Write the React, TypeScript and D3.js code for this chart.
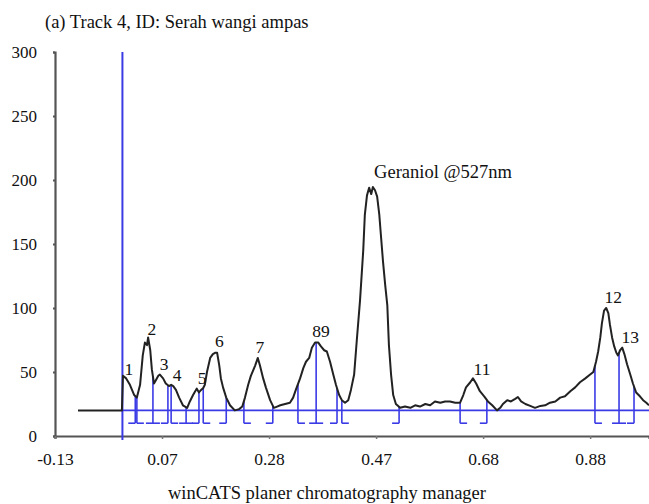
import React, { useEffect, useRef } from 'react';
import * as d3 from 'd3';

// densitogram trace (Rf vs intensity)
const rfValues = [
  -0.087, -0.005, -0.003, 0.003, 0.010, 0.018, 0.023, 0.029, 0.034, 0.038, 0.042, 0.044, 0.048,
  0.051, 0.055, 0.059, 0.063, 0.066, 0.072, 0.077, 0.083, 0.087, 0.091, 0.096, 0.102, 0.109,
  0.117, 0.122, 0.128, 0.132, 0.135, 0.139, 0.143, 0.147, 0.150, 0.154, 0.160, 0.165, 0.169,
  0.173, 0.177, 0.180, 0.184, 0.190, 0.197, 0.206, 0.214, 0.220, 0.225, 0.231, 0.236, 0.244,
  0.249, 0.253, 0.259, 0.264, 0.272, 0.279, 0.285, 0.291, 0.300, 0.309, 0.315, 0.320, 0.328,
  0.334, 0.339, 0.345, 0.350, 0.356, 0.362, 0.367, 0.373, 0.378, 0.384, 0.390, 0.395, 0.401,
  0.406, 0.412, 0.418, 0.423, 0.429, 0.434, 0.440, 0.446, 0.449, 0.453, 0.457, 0.461, 0.464,
  0.468, 0.472, 0.476, 0.479, 0.483, 0.487, 0.491, 0.494, 0.498, 0.502, 0.507, 0.515, 0.524,
  0.534, 0.543, 0.552, 0.562, 0.571, 0.580, 0.590, 0.599, 0.608, 0.618, 0.627, 0.633, 0.638,
  0.646, 0.651, 0.657, 0.664, 0.672, 0.679, 0.687, 0.696, 0.702, 0.707, 0.715, 0.722, 0.730,
  0.735, 0.741, 0.749, 0.758, 0.767, 0.777, 0.786, 0.795, 0.805, 0.814, 0.823, 0.833, 0.842,
  0.851, 0.861, 0.870, 0.876, 0.881, 0.885, 0.889, 0.892, 0.896, 0.900, 0.904, 0.907, 0.911,
  0.915, 0.919, 0.922, 0.926, 0.930, 0.934, 0.939, 0.945, 0.950, 0.956, 0.963, 0.969, 0.975, 0.980,
];
const intensity = [
  20, 20, 47, 45, 40, 32, 30, 40, 63, 73, 71, 77, 67,
  52, 41, 44, 47, 48, 45, 41, 39, 40, 39, 36, 30, 24,
  22, 27, 32, 35, 37, 34, 36, 37.5, 40, 50, 61, 64, 65,
  65, 55, 45, 38, 30, 24, 20, 21, 23, 30, 40, 47, 55,
  61, 55, 45, 38, 28, 22, 23, 24, 25, 26, 30, 36, 45,
  53, 58, 61, 69, 73, 73, 70, 67, 66, 58, 48, 40, 32,
  28, 26, 28, 36, 48, 75, 106, 145, 173, 188, 194, 189, 194.5,
  192, 187, 173, 157, 136, 118, 102, 71, 48, 32, 25, 22, 23,
  22, 24, 23, 25, 24, 27, 26, 27, 27, 26, 26, 32, 38,
  42, 45, 41, 35, 31, 27, 24, 20, 22, 25, 28, 27, 29,
  30.5, 27, 25, 23.5, 22, 23.5, 24, 26, 27, 30, 31, 35, 38,
  42, 45, 48, 50, 58, 66, 77, 88, 98, 100, 96, 87, 77,
  70, 65, 63, 67, 69, 64, 56, 48, 41, 34, 31, 28, 26, 24,
];

// integration marks: position and which side the foot points to
const markerRf = [0.020, 0.023, 0.053, 0.081, 0.087, 0.115, 0.139, 0.147, 0.190, 0.223, 0.277,
  0.324, 0.358, 0.397, 0.406, 0.513, 0.627, 0.677, 0.879, 0.924, 0.952];
const markerSide = ['L', 'R', 'B', 'L', 'R', 'B', 'L', 'R', 'L', 'R', 'L',
  'R', 'B', 'L', 'R', 'L', 'R', 'L', 'R', 'B', 'L'];

const peakNames = ['1', '2', '3', '4', '5', '6', '7', '89', 'Geraniol @527nm', '11', '12', '13'];
const peakLabelRf = [0.008, 0.051, 0.074, 0.098, 0.145, 0.177, 0.253, 0.367, 0.595, 0.668, 0.913, 0.945];
const peakLabelVal = [47.7, 78.9, 51.6, 43, 40.6, 69.5, 64.8, 77.3, 201.6, 47.7, 103.9, 72.7];

const xTickLabels = ['-0.13', '0.07', '0.28', '0.47', '0.68', '0.88'];
const yTickValues = [0, 50, 100, 150, 200, 250, 300];

const startRf = -0.004;
const baselineLevel = 20;
const footLevel = 10;

const App = () => {
  const ref = useRef<SVGSVGElement>(null);

  useEffect(() => {
    const width = 649;
    const height = 504;
    const font = "'Liberation Serif', 'Times New Roman', serif";
    const blue = '#3b3be6';

    const svg = d3.select(ref.current)
      .attr('width', width)
      .attr('height', height);
    svg.selectAll('*').remove();

    const x = d3.scaleLinear().domain([-0.13, 0.98]).range([55, 649]);
    const y = d3.scaleLinear().domain([0, 300]).range([436, 52]);

    const pts = rfValues.map((r, i) => [r, intensity[i]] as [number, number]);
    const bis = d3.bisector((d: [number, number]) => d[0]).left;
    const curveAt = (r: number) => {
      const i = Math.max(1, Math.min(pts.length - 1, bis(pts, r)));
      const a = pts[i - 1], b = pts[i];
      const t = (r - a[0]) / (b[0] - a[0]);
      return a[1] + t * (b[1] - a[1]);
    };

    // title
    svg.append('text')
      .attr('x', 45).attr('y', 28)
      .attr('font-family', font).attr('font-size', 18.5)
      .attr('fill', '#111')
      .text('(a) Track 4, ID: Serah wangi ampas');

    // axes
    const yAxis = svg.append('g')
      .attr('transform', 'translate(55,0)')
      .call(d3.axisLeft(y).tickValues(yTickValues).tickSize(2).tickPadding(16));
    yAxis.select('.domain').attr('stroke', '#555').attr('stroke-width', 2.2);
    yAxis.selectAll('.tick line').attr('stroke', '#555').attr('stroke-width', 2);
    yAxis.selectAll('.tick text')
      .attr('font-family', font).attr('font-size', 17).attr('fill', '#111');

    const xAxis = svg.append('g')
      .attr('transform', 'translate(0,436)')
      .call(d3.axisBottom(x)
        .tickValues(xTickLabels.map((_, i) => -0.13 + 0.2 * i))
        .tickFormat((_, i) => xTickLabels[i])
        .tickSize(3).tickPadding(14));
    xAxis.select('.domain').attr('stroke', '#555').attr('stroke-width', 2.2);
    xAxis.selectAll('.tick line').attr('stroke', '#777').attr('stroke-width', 1.5);
    xAxis.selectAll('.tick text')
      .attr('font-family', font).attr('font-size', 17.5).attr('fill', '#111');

    // start line and baseline
    svg.append('line')
      .attr('x1', x(startRf)).attr('x2', x(startRf))
      .attr('y1', y(300)).attr('y2', y(0) + 4)
      .attr('stroke', blue).attr('stroke-width', 2);
    svg.append('line')
      .attr('x1', x(startRf)).attr('x2', width)
      .attr('y1', y(baselineLevel)).attr('y2', y(baselineLevel))
      .attr('stroke', blue).attr('stroke-width', 1.6);

    // integration marks
    const marks = svg.append('g').attr('stroke', blue).attr('stroke-width', 1.6).attr('fill', 'none');
    markerRf.forEach((r, i) => {
      const px = x(r);
      const foot = y(footLevel);
      marks.append('line')
        .attr('x1', px).attr('x2', px)
        .attr('y1', y(curveAt(r))).attr('y2', foot);
      const side = markerSide[i];
      const x1 = side === 'R' ? px : px - 7;
      const x2 = side === 'L' ? px : px + 7;
      marks.append('line')
        .attr('x1', x1).attr('x2', x2)
        .attr('y1', foot).attr('y2', foot);
    });

    // trace
    const line = d3.line<[number, number]>()
      .x(d => x(d[0]))
      .y(d => y(d[1]));
    svg.append('path')
      .datum(pts)
      .attr('d', line)
      .attr('fill', 'none')
      .attr('stroke', '#222')
      .attr('stroke-width', 2)
      .attr('stroke-linejoin', 'round');

    // peak labels
    svg.append('g')
      .selectAll('text')
      .data(peakNames)
      .join('text')
      .attr('x', (_, i) => x(peakLabelRf[i]))
      .attr('y', (_, i) => y(peakLabelVal[i]))
      .attr('text-anchor', 'middle')
      .attr('font-family', font)
      .attr('font-size', d => (d.length > 3 ? 18.5 : 17.5))
      .attr('fill', '#111')
      .text(d => d);

    // footer
    svg.append('text')
      .attr('x', 327).attr('y', 499)
      .attr('text-anchor', 'middle')
      .attr('font-family', font).attr('font-size', 18.5)
      .attr('fill', '#111')
      .text('winCATS planer chromatography manager');
  }, []);

  return <svg ref={ref} style={{ position: 'absolute', left: 0, top: 0, background: '#fff' }}></svg>;
};

export default App;
